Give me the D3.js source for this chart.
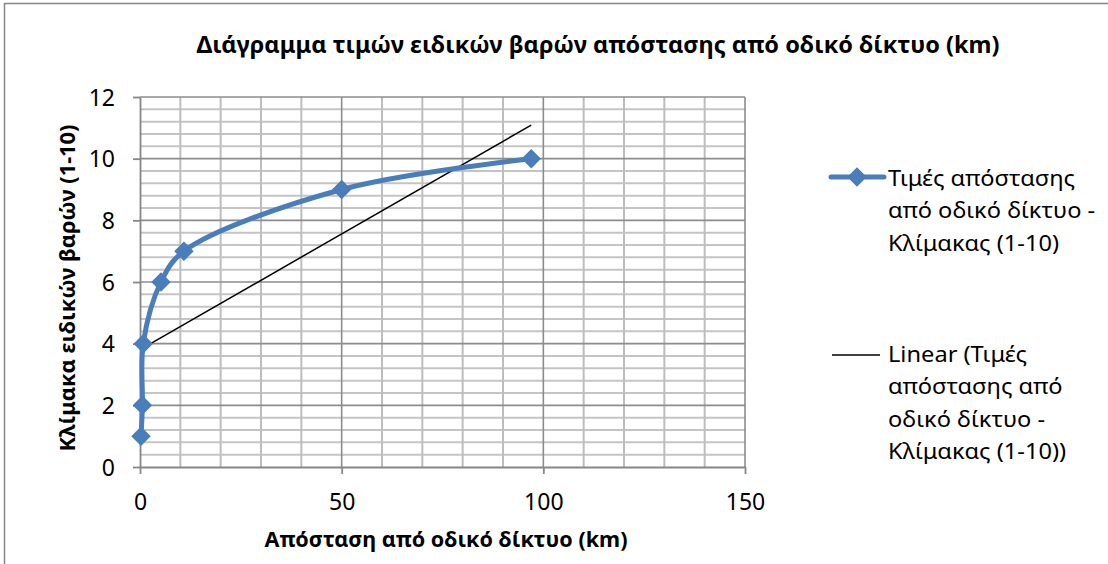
<!DOCTYPE html>
<html>
<head>
<meta charset="utf-8">
<script src="https://cdn.jsdelivr.net/npm/d3@7"></script>
<style>
  html, body { margin: 0; padding: 0; background: #fff; }
  svg { display: block; }
  text { font-family: "Noto Sans", "Open Sans", sans-serif; fill: #000; }
</style>
</head>
<body>
<svg id="chart" width="1108" height="564"></svg>
<script>
// ---- data ----
const distanceKm = [0.25, 0.6, 0.8, 5.2, 10.9, 50, 97];
const scaleValues = [1, 2, 4, 6, 7, 9, 10];
const xTicks = [0, 50, 100, 150];
const yTicks = [0, 2, 4, 6, 8, 10, 12];
const titleText = "Διάγραμμα τιμών ειδικών βαρών απόστασης από οδικό δίκτυο (km)";
const xTitleText = "Απόσταση από οδικό δίκτυο (km)";
const yTitleText = "Κλίμακα ειδικών βαρών (1-10)";
const seriesLegend = ["Τιμές απόστασης", "από οδικό δίκτυο -", "Κλίμακας (1-10)"];
const trendLegend = ["Linear (Τιμές", "απόστασης από", "οδικό δίκτυο -", "Κλίμακας (1-10))"];

const svg = d3.select("#chart");
const W = 1108, H = 564;
const plot = { left: 140, right: 745, top: 97, bottom: 467 };
const x = d3.scaleLinear().domain([0, 150]).range([plot.left, plot.right]);
const y = d3.scaleLinear().domain([0, 12]).range([plot.bottom, plot.top]);

const blue = "#4a7ebb";
const axisGray = "#868686";

// chart frame
svg.append("rect").attr("x", 4.5).attr("y", 3.5).attr("width", W + 20).attr("height", H + 20)
  .attr("fill", "#fff").attr("stroke", axisGray).attr("stroke-width", 1.5);

function fit(sel, target) {
  sel.attr("textLength", target).attr("lengthAdjust", "spacingAndGlyphs");
}

// minor gridlines
const g = svg.append("g");
const minorY = d3.range(0, 12.0001, 0.4).filter(v => Math.abs(v / 2 - Math.round(v / 2)) > 1e-6);
g.selectAll(".hminor").data(minorY).join("line")
  .attr("x1", plot.left).attr("x2", plot.right)
  .attr("y1", d => y(d)).attr("y2", d => y(d))
  .attr("stroke", "#c4c4c4").attr("stroke-width", 2);
const minorX = d3.range(10, 150.001, 10).filter(v => v % 50 !== 0);
g.selectAll(".vminor").data(minorX).join("line")
  .attr("y1", plot.top).attr("y2", plot.bottom)
  .attr("x1", d => x(d)).attr("x2", d => x(d))
  .attr("stroke", "#bdbdbd").attr("stroke-width", 2);
// major gridlines
g.selectAll(".hmajor").data(yTicks.filter(v => v > 0)).join("line")
  .attr("x1", plot.left).attr("x2", plot.right)
  .attr("y1", d => y(d)).attr("y2", d => y(d))
  .attr("stroke", "#8c8c8c").attr("stroke-width", 1.6);
g.selectAll(".vmajor").data(xTicks.filter(v => v > 0)).join("line")
  .attr("y1", plot.top).attr("y2", plot.bottom)
  .attr("x1", d => x(d)).attr("x2", d => x(d))
  .attr("stroke", "#8c8c8c").attr("stroke-width", 1.6);

// axes
const xAxis = svg.append("g").attr("transform", `translate(0,${plot.bottom})`)
  .call(d3.axisBottom(x).tickValues(xTicks).tickSizeInner(7).tickSizeOuter(0));
const yAxis = svg.append("g").attr("transform", `translate(${plot.left},0)`)
  .call(d3.axisLeft(y).tickValues(yTicks).tickSizeInner(7).tickSizeOuter(0).tickPadding(18));
[xAxis, yAxis].forEach(a => {
  a.attr("font-size", 23).attr("font-family", '"Noto Sans", sans-serif');
  a.select(".domain").attr("stroke", axisGray).attr("stroke-width", 1.8);
  a.selectAll(".tick line").attr("stroke", axisGray).attr("stroke-width", 1.8);
  a.selectAll("text").attr("font-size", 23).attr("fill", "#000");
});
xAxis.selectAll("text").attr("y", 43).attr("dy", 0);
yAxis.selectAll("text").attr("dy", "0.36em");

// regression (linear trendline)
const n = distanceKm.length;
const mx = d3.mean(distanceKm), my = d3.mean(scaleValues);
let sxy = 0, sxx = 0;
for (let i = 0; i < n; i++) {
  sxy += (distanceKm[i] - mx) * (scaleValues[i] - my);
  sxx += (distanceKm[i] - mx) ** 2;
}
const slope = sxy / sxx, intercept = my - slope * mx;
const xMin = d3.min(distanceKm), xMax = d3.max(distanceKm);
svg.append("line")
  .attr("x1", x(xMin)).attr("y1", y(intercept + slope * xMin))
  .attr("x2", x(xMax)).attr("y2", y(intercept + slope * xMax))
  .attr("stroke", "#000").attr("stroke-width", 1.5);

// series line
const pts = distanceKm.map((d, i) => [d, scaleValues[i]]);
const lineGen = d3.line().x(d => x(d[0])).y(d => y(d[1])).curve(d3.curveCatmullRom.alpha(0.5));
svg.append("path").datum(pts).attr("d", lineGen)
  .attr("fill", "none").attr("stroke", blue).attr("stroke-width", 5)
  .attr("stroke-linejoin", "round").attr("stroke-linecap", "round");

const diamond = d3.symbol().type(d3.symbolSquare).size(190);
svg.selectAll(".pt").data(pts).join("path")
  .attr("d", diamond)
  .attr("transform", d => `translate(${x(d[0])},${y(d[1])}) rotate(45)`)
  .attr("fill", blue);

// titles
const t = svg.append("text").attr("x", 598).attr("y", 53).attr("text-anchor", "middle")
  .attr("font-size", 24).attr("font-weight", "bold").text(titleText);
fit(t, 803);
const xt = svg.append("text").attr("x", 446).attr("y", 547).attr("text-anchor", "middle")
  .attr("font-size", 22).attr("font-weight", "bold").text(xTitleText);
fit(xt, 363);
const yt = svg.append("text").attr("transform", "translate(75,288) rotate(-90)").attr("text-anchor", "middle")
  .attr("font-size", 22).attr("font-weight", "bold").text(yTitleText);
fit(yt, 327);

// legend
const leg = svg.append("g");
leg.append("line").attr("x1", 831).attr("x2", 884).attr("y1", 177).attr("y2", 177)
  .attr("stroke", blue).attr("stroke-width", 5).attr("stroke-linecap", "round");
leg.append("path").attr("d", diamond).attr("transform", "translate(857,177) rotate(45)").attr("fill", blue);
leg.append("line").attr("x1", 832).attr("x2", 880).attr("y1", 355).attr("y2", 355)
  .attr("stroke", "#000").attr("stroke-width", 1.5);

function legendText(lines, y0) {
  return lines.map((s, i) => leg.append("text").attr("x", 888).attr("y", y0 + i * 32.3)
    .attr("font-size", 22).text(s));
}
const l1 = legendText(seriesLegend, 186);
const l2 = legendText(trendLegend, 362);
const base = l1[0].node().getComputedTextLength();
const k = 187 / base;
[...l1, ...l2].forEach(s => {
  const L = s.node().getComputedTextLength();
  s.attr("textLength", L * k).attr("lengthAdjust", "spacingAndGlyphs");
});
</script>
</body>
</html>
